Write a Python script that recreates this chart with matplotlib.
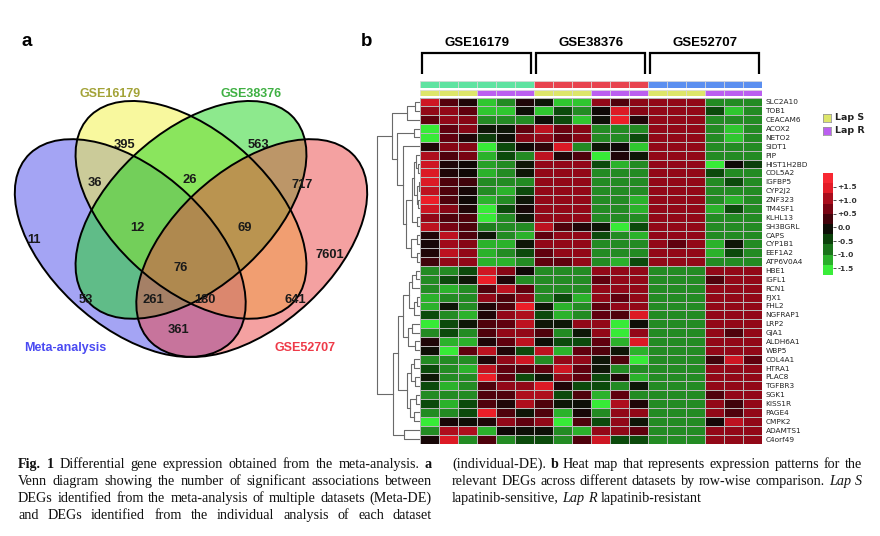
import numpy as np
import matplotlib
matplotlib.use("Agg")
import matplotlib.pyplot as plt
from matplotlib.patches import Ellipse
from matplotlib.colors import LinearSegmentedColormap

# ---------------- data ----------------
venn_sets = ["Meta-analysis", "GSE16179", "GSE38376", "GSE52707"]
venn_regions = ["A", "B", "C", "D", "AB", "BC", "CD", "AC", "BD", "AD",
                "ABC", "BCD", "ACD", "ABD", "ABCD"]
venn_counts = [11, 395, 563, 7601, 36, 26, 717, 53, 641, 361,
               12, 69, 261, 180, 76]

datasets = ["GSE16179", "GSE38376", "GSE52707"]
group_names = ["Lap S", "Lap R"]
sample_groups = ["Lap S", "Lap S", "Lap S", "Lap R", "Lap R", "Lap R"]

genes = ["SLC2A10", "TOB1", "CEACAM6", "ACOX2", "NETO2", "SIDT1", "PIP",
         "HIST1H2BD", "COL5A2", "IGFBP5", "CYP2J2", "ZNF323", "TM4SF1",
         "KLHL13", "SH3BGRL", "CAPS", "CYP1B1", "EEF1A2", "ATP6V0A4",
         "HBE1", "IGFL1", "RCN1", "FJX1", "FHL2", "NGFRAP1", "LRP2", "GJA1",
         "ALDH6A1", "WBP5", "COL4A1", "HTRA1", "PLAC8", "TGFBR3", "SGK1",
         "KISS1R", "PAGE4", "CMPK2", "ADAMTS1", "C4orf49"]

expr = np.array([
    [1.3, 0.45, 0.1, -1.3, -1.0, 0.1, -0.1, -1.3, -1.3, 0.9, 0.4, 0.85, 0.9, 0.9, 0.9, -1.0, -1.0, -1.0],
    [0.9, 0.9, 0.5, -1.3, -1.3, -0.05, -1.3, -0.5, -1.0, 0.0, 1.4, 0.8, 0.9, 0.9, 0.9, -0.5, -1.3, -1.0],
    [0.5, 0.9, 0.8, -1.0, -1.0, -1.0, -0.05, -0.5, -1.3, -0.05, 1.5, 0.1, 0.9, 0.9, 0.9, -1.0, -1.0, -1.0],
    [-1.5, 0.5, 0.8, -0.1, -0.1, 0.5, 1.2, 0.6, 0.8, -1.0, -1.0, -1.0, 0.9, 0.9, 0.9, -1.0, -1.3, -1.0],
    [-1.5, 0.5, 0.1, -0.4, -0.05, 0.8, 0.9, 0.5, 0.8, -1.0, -1.0, -0.5, 0.9, 0.9, 0.9, -1.0, -1.3, -1.0],
    [0.1, 0.8, 0.8, -1.5, -0.5, 0.0, 0.2, 1.4, -1.0, -0.1, 0.0, -1.3, 0.9, 0.9, 0.9, -1.0, -1.0, -1.0],
    [1.1, 0.4, 0.7, -1.2, -0.5, -1.0, 1.2, 0.1, 0.4, -1.5, 0.1, -0.1, 0.9, 0.9, 0.9, -1.0, -1.0, -1.0],
    [1.3, 0.1, 0.0, -1.1, -1.0, -0.1, 0.9, 0.9, 0.9, -0.5, -1.2, -1.0, 0.9, 0.9, 0.9, -1.5, 0.0, -0.4],
    [1.4, 0.1, 0.0, -1.2, -1.0, -0.1, 0.9, 0.9, 0.9, -1.0, -1.0, -1.0, 0.9, 0.9, 0.9, -0.5, -1.0, -1.0],
    [1.4, 0.4, 0.3, -1.0, -1.0, -1.0, 0.9, 0.9, 0.9, -1.0, -1.0, -1.0, 0.9, 0.9, 0.9, -1.0, -0.5, -1.0],
    [1.2, 0.4, 0.05, -1.0, -1.2, -0.5, 0.9, 0.9, 0.9, -1.0, -1.0, -1.0, 0.9, 0.9, 0.9, -1.0, -1.0, -1.0],
    [1.5, 0.4, 0.0, -1.2, -1.0, -0.1, 0.9, 0.9, 0.9, -1.0, -1.0, -1.2, 0.9, 0.9, 0.9, -1.0, -1.2, -1.0],
    [1.3, 0.8, 0.1, -1.5, -0.5, 0.05, 0.9, 0.9, 0.9, -1.0, -1.0, -1.2, 0.9, 0.9, 0.9, -1.2, -0.5, -1.0],
    [0.9, 0.4, 0.4, -1.5, -1.0, -0.1, 0.9, 0.9, 0.9, -1.0, -1.0, -1.0, 0.9, 0.9, 0.9, -1.0, -1.0, -1.0],
    [1.2, 0.7, 0.4, -0.9, -1.0, -1.0, 1.2, 0.4, 0.1, -0.1, -1.5, -0.5, 0.9, 0.9, 0.9, -1.0, -1.0, -1.0],
    [0.1, 1.2, 0.4, -0.1, -1.0, -1.2, 0.5, 0.9, 0.9, -0.5, -1.0, -1.2, 0.9, 0.9, 0.9, -1.0, -1.0, -1.0],
    [0.05, 1.0, 0.8, -1.2, -1.2, -0.1, 0.9, 0.9, 0.9, -1.0, -1.0, -1.0, 0.9, 0.5, 0.9, -1.2, -0.1, -1.0],
    [0.1, 1.2, 0.9, -1.2, -1.0, -0.5, 0.5, 0.9, 0.9, -1.0, -1.0, -1.0, 0.9, 0.9, 0.9, -1.2, -0.5, -1.0],
    [0.3, 0.9, 0.9, -1.2, -1.2, -1.0, 0.5, 0.5, 0.9, -1.0, -1.2, -0.5, 0.9, 0.9, 0.9, -1.0, -1.0, -1.0],
    [-1.0, -1.0, -0.5, 1.3, 0.8, 0.0, -1.0, -1.0, -1.0, 0.9, 0.9, 0.9, -1.0, -1.0, -1.0, 0.9, 0.9, 0.9],
    [-1.0, -0.5, -0.1, 1.5, 0.1, -1.0, -1.0, -1.0, -1.0, 0.5, 0.9, 0.9, -1.0, -1.0, -1.0, 0.4, 0.9, 0.9],
    [-1.0, -1.2, -1.0, 0.4, 1.2, 0.5, -1.0, -1.0, -1.0, 0.9, 0.9, 0.9, -1.0, -1.0, -1.0, 0.9, 0.9, 0.9],
    [-1.2, -1.0, -1.0, 0.9, 0.4, 0.9, -1.0, -0.5, -1.2, 0.9, 0.5, 0.9, -1.0, -1.0, -1.0, 0.9, 0.9, 0.9],
    [-1.2, -0.1, -1.0, 0.1, 0.4, 1.5, -0.1, -1.2, -1.0, 0.5, 0.9, 0.9, -1.0, -1.0, -1.0, 0.9, 0.9, 0.9],
    [-0.5, -1.0, -1.2, 0.1, 0.9, 1.1, -0.5, -1.2, -1.0, 0.5, 0.4, 1.4, -1.0, -1.0, -1.0, 0.9, 0.9, 0.9],
    [-1.5, -0.5, -0.1, 0.4, 0.5, 1.2, -0.1, -0.1, 0.9, 0.9, -1.5, -0.05, -1.0, -1.0, -1.0, 0.9, 0.9, 0.9],
    [-1.0, -0.5, -1.0, 0.4, 0.9, 0.9, 0.4, -1.0, -0.1, 0.9, -1.5, 0.9, -1.0, -1.0, -1.0, 0.9, 0.4, 0.9],
    [0.1, -1.2, -1.2, 0.1, 0.5, 1.2, -0.05, -0.5, -0.5, 0.5, -1.2, 1.4, -1.0, -1.0, -1.0, 0.9, 0.9, 0.9],
    [-0.05, -1.5, 0.5, 1.2, 0.1, -0.5, 1.2, -1.2, 0.5, 0.4, -0.1, -1.2, -1.0, -1.0, -1.0, 0.9, 0.9, 0.9],
    [-1.0, -1.0, -1.0, 0.1, 0.9, 1.3, -1.0, 0.9, 0.9, -0.1, 0.4, -1.5, -1.0, -1.0, -1.0, 0.3, 1.3, 0.5],
    [-0.5, -1.0, -1.2, 1.2, 0.5, 0.4, 0.5, 1.3, 0.5, -0.1, -1.0, -1.0, -1.0, -1.0, -1.0, 0.9, 0.9, 0.9],
    [-0.1, -1.0, -1.0, 1.5, 0.5, -0.5, -0.1, 0.9, 0.5, -0.5, 0.1, -1.2, -1.0, -1.0, -1.0, 0.9, 0.9, 0.9],
    [-0.5, -1.2, -1.0, 0.4, 0.9, 0.9, 1.4, 0.1, -0.5, -0.5, -1.0, -0.1, -1.0, -1.0, -1.0, 0.9, 0.9, 0.9],
    [-1.0, -1.0, -1.0, 0.4, 0.4, 1.1, 1.1, -0.5, 0.4, -1.2, 0.5, -1.0, -1.0, -1.0, -1.0, 0.4, 0.9, 0.9],
    [-0.5, -1.2, -0.5, 0.4, 0.1, 1.1, 0.4, -0.1, -0.05, -1.5, 1.1, 0.1, -1.0, -1.0, -1.0, 0.9, 0.3, 0.9],
    [-1.0, -1.0, -0.5, 1.5, 0.4, -0.1, 0.4, -1.2, 0.05, -1.0, 0.9, 0.9, -1.0, -1.0, -1.0, 0.9, 0.4, 0.9],
    [-1.5, 0.05, -0.05, 0.1, 0.9, 0.5, 0.9, -1.5, 0.4, -0.5, 0.9, -0.1, -1.0, -1.0, -1.0, 0.05, 1.2, 0.9],
    [-1.0, 1.1, 1.1, -1.2, 0.0, -0.05, -0.05, -1.0, -1.2, 0.9, 0.9, 0.5, -1.0, -1.0, -1.0, 0.9, 0.9, 0.9],
    [0.05, 1.4, -1.0, 0.4, -1.0, -0.5, -0.5, -1.0, 0.4, 1.3, -0.5, -0.5, -1.0, -1.0, -1.0, 0.9, 0.9, 0.9],
])

# row dendrogram: [left, right, merge height]; leaves are row indices
row_tree = [
    [[[0, 1, 5], 2, 13],
     [[3, 4, 6],
      [5, [[[[6, [7, 8, 2], 4], [[9, 10, 1.5], [11, 12, 2], 3], 6], [13, 14, 3], 8],
           [[15, 16, 3], [17, 18, 3], 9], 14], 17], 23], 28],
    [[[[[[19, 20, 4], 21, 8], [[22, 23, 3], 24, 6], 11],
        [[25, 26, 8], [27, 28, 5], 12], 17],
       [[[29, 30, 6], [31, 32, 5], 9], [[33, 34, 4], [35, 36, 6], 10], 13], 22],
      [37, 38, 16], 27],
    43]

cbar_ticks = [1.5, 1.0, 0.5, 0.0, -0.5, -1.0, -1.5]
cbar_ticklabels = ["+1.5", "+1.0", "+0.5", "0.0", "-0.5", "-1.0", "-1.5"]

caption_left = [
    "*Fig.* *1* Differential gene expression obtained from the meta-analysis. *a*",
    "Venn diagram showing the number of significant associations between",
    "DEGs identified from the meta-analysis of multiple datasets (Meta-DE)",
    "and DEGs identified from the individual analysis of each dataset",
]
caption_right = [
    "(individual-DE). *b* Heat map that represents expression patterns for the",
    "relevant DEGs across different datasets by row-wise comparison. _Lap_ _S_",
    "lapatinib-sensitive, _Lap_ _R_ lapatinib-resistant",
]

# ---------------- style / layout ----------------
W, H = 880, 536
fig = plt.figure(figsize=(W / 100, H / 100), dpi=100)
fig.patch.set_facecolor("white")
SANS = "Liberation Sans"


def px_axes(x0, y0, x1, y1):
    return fig.add_axes([x0 / W, 1 - y1 / H, (x1 - x0) / W, (y1 - y0) / H])


def fx(x):
    return x / W


def fy(y):
    return 1 - y / H


# Venn unit square -> pixel mapping
VX0, VSX, VY0, VSY, VTOP = 191, 405, 101, 382, 0.855


def venn_uv(px, py):
    return 0.5 + (px - VX0) / VSX, VTOP - (py - VY0) / VSY


set_fill = ["#4b4beb", "#f3f33f", "#1dd41d", "#eb4545"]
set_text = ["#4a4af2", "#a3a338", "#3fb043", "#ee3a48"]
ellipse_geom = [((0.35, 0.47), -45), ((0.5, 0.57), -45),
                ((0.5, 0.57), 45), ((0.65, 0.47), 45)]
region_pos_px = {"A": (34, 240), "B": (124, 145), "C": (258, 145),
                 "D": (330, 255), "AB": (95, 183), "BC": (190, 180),
                 "CD": (302, 185), "AC": (86, 300), "BD": (295, 300),
                 "AD": (178, 330), "ABC": (137, 228), "BCD": (245, 228),
                 "ACD": (153, 300), "ABD": (205, 300), "ABCD": (181, 268)}
set_label_px = [(65, 348), (110, 94), (251, 94), (305, 348)]

# ---------------- panel a: Venn ----------------
axv = px_axes(0, 70, 400, 380)
u0, v1 = venn_uv(0, 70)
u1, v0 = venn_uv(400, 380)
axv.set_xlim(u0, u1)
axv.set_ylim(v0, v1)
axv.axis("off")
for (c, ang), col in zip(ellipse_geom, set_fill):
    axv.add_patch(Ellipse(c, 0.70, 0.40, angle=ang, facecolor=col,
                          alpha=0.5, edgecolor="none"))
for (c, ang) in ellipse_geom:
    axv.add_patch(Ellipse(c, 0.70, 0.40, angle=ang, facecolor="none",
                          edgecolor="black", lw=1.4))
for reg, cnt in zip(venn_regions, venn_counts):
    x, y = venn_uv(*region_pos_px[reg])
    axv.text(x, y, str(cnt), ha="center", va="center", fontsize=9.3,
             fontweight="bold", color="#1a1a1a", family=SANS)
for name, p, col in zip(venn_sets, set_label_px, set_text):
    x, y = venn_uv(*p)
    axv.text(x, y, name, ha="center", va="center", fontsize=9,
             fontweight="bold", color=col, family=SANS)

fig.text(fx(27), fy(41), "a", fontsize=13.5, fontweight="bold",
         ha="center", va="center", family=SANS)
fig.text(fx(367), fy(41), "b", fontsize=13.5, fontweight="bold",
         ha="center", va="center", family=SANS)

# ---------------- panel b: heatmap ----------------
anchors = [(-2.0, (80, 255, 80)), (-1.5, (55, 235, 55)), (-1.0, (35, 140, 35)),
           (-0.5, (12, 75, 12)), (0.0, (14, 8, 6)), (0.5, (95, 0, 14)),
           (1.0, (158, 10, 26)), (1.5, (235, 30, 40)), (2.0, (255, 45, 55))]
cmap = LinearSegmentedColormap.from_list(
    "gbr", [((v + 2) / 4, tuple(np.array(c) / 255)) for v, c in anchors])

n_rows, n_cols = expr.shape
hx0, hx1, hy0, hy1 = 420, 762, 97.5, 443.5
axh = px_axes(hx0, hy0, hx1, hy1)
axh.pcolormesh(np.arange(n_cols + 1), np.arange(n_rows + 1), expr, cmap=cmap,
               vmin=-2, vmax=2, edgecolors="#b8b8b8", linewidth=0.6)
axh.set_xlim(0, n_cols)
axh.set_ylim(n_rows, 0)
axh.set_xticks([])
axh.yaxis.tick_right()
axh.set_yticks(np.arange(n_rows) + 0.5)
axh.set_yticklabels(genes, fontsize=5.3, color="#222222")
axh.tick_params(axis="y", length=0, pad=2.5)
for s in axh.spines.values():
    s.set_visible(False)

# column annotation bars
ds_colors = ["#5fe3a1", "#e8434f", "#5b8ff0"]
grp_colors = {"Lap S": "#dde66a", "Lap R": "#bb5ff0"}
col_ds = [d for d in range(len(datasets)) for _ in sample_groups]
col_grp = [g for _ in datasets for g in sample_groups]

axd = px_axes(hx0, 80.5, hx1, 87.5)
for j, d in enumerate(col_ds):
    axd.bar(j + 0.5, 1, width=1, color=ds_colors[d], edgecolor="#d8d8d8", lw=0.5)
axd.set_xlim(0, n_cols); axd.set_ylim(0, 1); axd.axis("off")

axg = px_axes(hx0, 89.5, hx1, 96.0)
for j, g in enumerate(col_grp):
    axg.bar(j + 0.5, 1, width=1, color=grp_colors[g], edgecolor="#d8d8d8", lw=0.5)
axg.set_xlim(0, n_cols); axg.set_ylim(0, 1); axg.axis("off")

# dataset brackets + titles
axb = px_axes(hx0, 30, hx1, 74)
axb.set_xlim(0, n_cols); axb.set_ylim(74, 30); axb.axis("off")
for i, name in enumerate(datasets):
    a, b = 6 * i + 0.1, 6 * i + 5.85
    axb.plot([a, a, b, b], [74, 53, 53, 74], color="black", lw=1.6,
             solid_joinstyle="miter")
    axb.text(6 * i + 3, 43, name, ha="center", va="center", fontsize=9.5,
             fontweight="bold", family=SANS)

# dendrogram
axt = px_axes(370, hy0, hx0, hy1)
axt.set_xlim(50, 0); axt.set_ylim(n_rows, 0); axt.axis("off")


def draw_tree(node):
    if isinstance(node, int):
        return 0.0, node + 0.5
    left, right, h = node
    hl, yl = draw_tree(left)
    hr, yr = draw_tree(right)
    axt.plot([hl, h, h, hr], [yl, yl, yr, yr], color="#6a6a6a", lw=0.8)
    return h, (yl + yr) / 2


draw_tree(row_tree)

# legend
for k, g in enumerate(group_names):
    y0 = 113.5 + k * 13
    axl = px_axes(823, y0, 831, y0 + 8)
    axl.set_facecolor(grp_colors[g])
    axl.set_xticks([]); axl.set_yticks([])
    for s in axl.spines.values():
        s.set_color("#999999"); s.set_linewidth(0.6)
    fig.text(fx(835), fy(y0 + 4), g, fontsize=6.8, fontweight="bold",
             va="center", ha="left", color="#222222")

# colorbar (blocky)
axc = px_axes(823, 173, 833, 275)
edges = np.linspace(-1.75, 2.0, 11)
centers = (edges[:-1] + edges[1:]) / 2
axc.pcolormesh([0, 1], edges, centers.reshape(-1, 1), cmap=cmap,
               vmin=-2, vmax=2)
axc.set_xlim(0, 1); axc.set_ylim(-1.75, 2.0)
axc.set_xticks([])
axc.yaxis.tick_right()
axc.set_yticks(cbar_ticks)
axc.set_yticklabels(cbar_ticklabels, fontsize=5.4, fontweight="bold",
                    color="#333333")
axc.tick_params(axis="y", length=2, width=0.6, pad=1, color="#333333")
for s in axc.spines.values():
    s.set_visible(False)

# ---------------- caption ----------------
serif = "Liberation Serif"
renderer = fig.canvas.get_renderer()


def draw_caption_line(line, x0, x1, base_y, justify, size=10.2):
    items = []
    for w in line.split(" "):
        style = "n"
        if len(w) > 1 and w.startswith("*") and w.endswith("*"):
            style, w = "b", w[1:-1]
        elif len(w) > 1 and w.startswith("_") and w.endswith("_"):
            style, w = "i", w[1:-1]
        t = fig.text(0, 0, w, fontsize=size, family=serif,
                     fontweight="bold" if style == "b" else "normal",
                     fontstyle="italic" if style == "i" else "normal",
                     ha="left", va="baseline", color="#111111")
        items.append(t)
    widths = [t.get_window_extent(renderer).width for t in items]
    space = 0.25 * size * 100 / 72
    if justify and len(items) > 1:
        gap = max((x1 - x0 - sum(widths)) / (len(items) - 1), 0.5 * space)
    else:
        gap = space
    x = x0
    for t, w in zip(items, widths):
        t.set_position((fx(x), fy(base_y)))
        x += w + gap


for k, line in enumerate(caption_left):
    draw_caption_line(line, 18, 432, 468 + 17 * k, True)
for k, line in enumerate(caption_right):
    draw_caption_line(line, 452, 862, 468 + 17 * k, k < len(caption_right) - 1)

fig.savefig("out.png", dpi=100, facecolor="white")
